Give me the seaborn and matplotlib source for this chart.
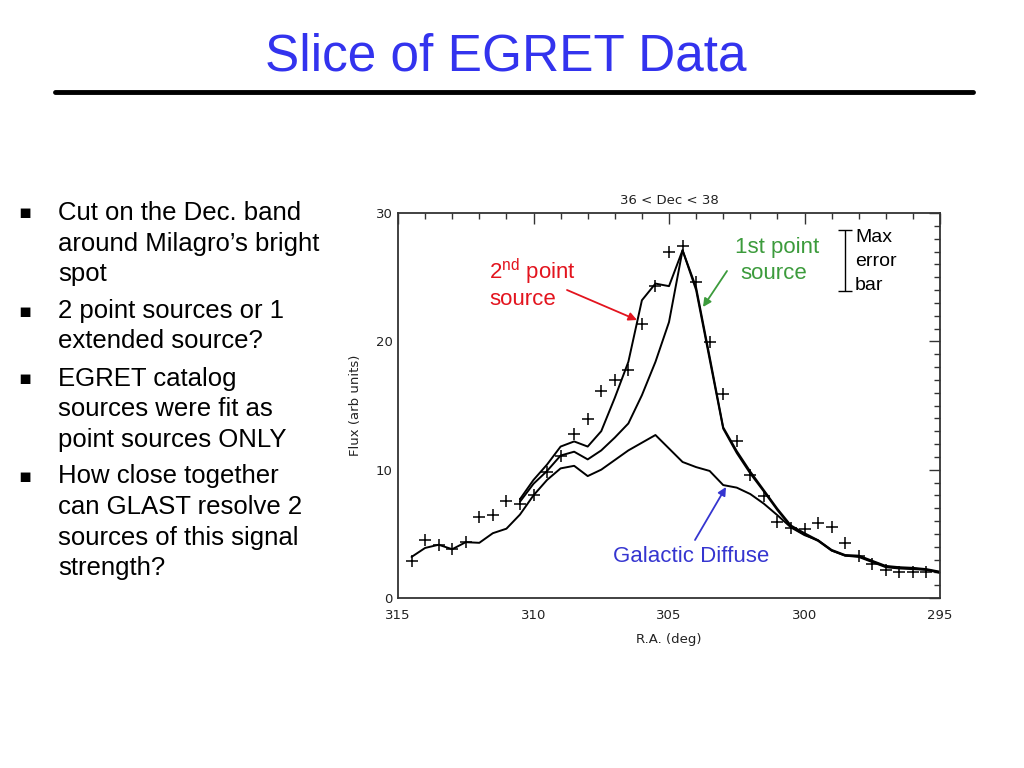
import matplotlib
matplotlib.use('Agg')
import matplotlib.pyplot as plt
import numpy as np
import pandas as pd
import seaborn as sns
from matplotlib.ticker import MultipleLocator

# Measured EGRET flux slice (36 < Dec < 38)
ra_points = [314.5, 314.0, 313.5, 313.0, 312.5, 312.0, 311.5, 311.0, 310.5,
             310.0, 309.5, 309.0, 308.5, 308.0, 307.5, 307.0, 306.5, 306.0,
             305.5, 305.0, 304.5, 304.0, 303.5, 303.0, 302.5, 302.0, 301.5,
             301.0, 300.5, 300.0, 299.5, 299.0, 298.5, 298.0, 297.5, 297.0,
             296.5, 296.0, 295.5]
flux_points = [2.9, 4.5, 4.1, 3.8, 4.4, 6.3, 6.5, 7.55, 7.35,
               8.05, 9.8, 11.05, 12.75, 13.95, 16.1, 17.0, 17.8, 21.35,
               24.3, 27.0, 27.4, 24.6, 19.95, 15.9, 12.25, 9.6, 7.95,
               5.95, 5.45, 5.4, 5.85, 5.5, 4.3, 3.3, 2.65, 2.2,
               2.05, 2.05, 2.05]

# Galactic diffuse model
ra_diffuse = [314.5, 314.0, 313.5, 313.0, 312.5, 312.0, 311.5, 311.0, 310.5,
              310.0, 309.5, 309.0, 308.5, 308.0, 307.5, 307.0, 306.5, 306.0,
              305.5, 305.0, 304.5, 304.0, 303.5, 303.0, 302.5, 302.0, 301.5,
              301.0, 300.5, 300.0, 299.5, 299.0, 298.5, 298.0, 297.5, 297.0,
              296.5, 296.0, 295.5, 295.0]
flux_diffuse = [3.2, 3.9, 4.15, 3.8, 4.35, 4.3, 5.05, 5.4, 6.5,
                8.0, 9.2, 10.1, 10.3, 9.5, 10.0, 10.75, 11.5, 12.1,
                12.7, 11.65, 10.6, 10.2, 9.9, 8.8, 8.6, 8.1, 7.35,
                6.45, 5.5, 4.9, 4.5, 3.7, 3.3, 3.2, 2.8, 2.4,
                2.3, 2.25, 2.2, 1.95]

# Diffuse + point source models
ra_model = [310.5, 310.0, 309.5, 309.0, 308.5, 308.0, 307.5, 307.0, 306.5,
            306.0, 305.5, 305.0, 304.5, 304.0, 303.5, 303.0, 302.5, 302.0,
            301.5, 301.0, 300.5, 300.0, 299.5, 299.0, 298.5, 298.0, 297.5,
            297.0, 296.5, 296.0, 295.5, 295.0]
flux_one_src = [7.5, 8.9, 9.9, 11.1, 11.4, 10.8, 11.5, 12.5, 13.6,
                15.8, 18.4, 21.5, 27.1, 24.0, 18.6, 13.2, 11.3, 9.7,
                8.3, 6.85, 5.55, 4.95, 4.45, 3.7, 3.3, 3.25, 2.85,
                2.45, 2.35, 2.3, 2.2, 2.0]
flux_two_src = [7.7, 9.2, 10.4, 11.8, 12.2, 11.8, 13.0, 15.6, 18.4,
                23.2, 24.5, 24.3, 27.1, 24.2, 18.8, 13.3, 11.45, 9.85,
                8.4, 6.95, 5.65, 5.05, 4.5, 3.75, 3.35, 3.3, 2.9,
                2.5, 2.4, 2.35, 2.25, 2.05]

bullets = [
    ['Cut on the Dec. band', 'around Milagro\u2019s bright', 'spot'],
    ['2 point sources or 1', 'extended source?'],
    ['EGRET catalog', 'sources were fit as', 'point sources ONLY'],
    ['How close together', 'can GLAST resolve 2',
     'sources of this signal', 'strength?'],
]

W, H = 1024, 768


def fx(px):
  return px / W


def fy(py):
  return 1 - py / H


sns.set_style('white')
plt.rcParams['font.family'] = ['Liberation Sans', 'DejaVu Sans']
plt.rcParams['text.color'] = 'black'
plt.rcParams['mathtext.fontset'] = 'custom'
plt.rcParams['mathtext.rm'] = 'Liberation Sans'
plt.rcParams['mathtext.default'] = 'regular'

fig = plt.figure(figsize=(W / 100, H / 100), dpi=100)
fig.patch.set_facecolor('white')

# slide title and rule
fig.text(fx(506), fy(57), 'Slice of EGRET Data', color='#3333ee',
         fontsize=37, ha='center', va='center')
fig.add_artist(plt.Line2D([fx(55), fx(973)], [fy(92), fy(92)],
                          color='black', lw=3.5))

# bullet list
y = 213
for item in bullets:
  fig.text(fx(25), fy(y), '\u25aa', fontsize=14, ha='center', va='center',
           family='DejaVu Sans', color='black')
  for line in item:
    fig.text(fx(58), fy(y), line, fontsize=18.5, ha='left', va='center',
             color='black')
    y += 30.5
  y += 6.5

# the plot
ax = fig.add_axes([fx(398), fy(598), (940 - 398) / W, (598 - 213) / H])
tick_font = dict(family='DejaVu Sans', fontsize=9.5, color='#222222')

df_pts = pd.DataFrame({'ra': ra_points, 'flux': flux_points})
df_diff = pd.DataFrame({'ra': ra_diffuse, 'flux': flux_diffuse})
df_one = pd.DataFrame({'ra': ra_model, 'flux': flux_one_src})
df_two = pd.DataFrame({'ra': ra_model, 'flux': flux_two_src})

for d in (df_diff, df_one, df_two):
  sns.lineplot(data=d, x='ra', y='flux', color='black', lw=1.4,
               estimator=None, ax=ax)
sns.scatterplot(data=df_pts, x='ra', y='flux', marker='+', color='black',
                s=70, linewidth=1.1, ax=ax)

ax.set_xlim(315, 295)
ax.set_ylim(0, 30)
ax.xaxis.set_major_locator(MultipleLocator(5))
ax.xaxis.set_minor_locator(MultipleLocator(1))
ax.yaxis.set_major_locator(MultipleLocator(10))
ax.yaxis.set_minor_locator(MultipleLocator(1))
ax.tick_params(which='both', direction='in', top=True, right=True,
               color='#333333', width=1)
ax.tick_params(which='major', length=8)
ax.tick_params(axis='x', which='major', pad=8)
ax.tick_params(axis='y', which='major', pad=4)
ax.tick_params(which='minor', length=4)
for lab in ax.get_xticklabels() + ax.get_yticklabels():
  lab.set_fontfamily('DejaVu Sans')
  lab.set_fontsize(9.5)
  lab.set_color('#222222')
for s in ax.spines.values():
  s.set_color('#333333')
  s.set_linewidth(1.3)

ax.set_xlabel('R.A. (deg)', **tick_font)
ax.set_ylabel('Flux (arb units)', **tick_font)
ax.xaxis.set_label_coords(0.5, -0.09)
ax.yaxis.set_label_coords(-0.066, 0.5)
ax.text(0.5, 1 + 13 / 385, '36 < Dec < 38', transform=ax.transAxes,
        ha='center', va='center', **tick_font)

# max error bar marker
ax.errorbar([298.5], [26.3], yerr=[2.35], color='black', lw=1, capsize=5,
            capthick=1)
fig.text(fx(855), fy(238), 'Max', fontsize=14, ha='left', va='center')
fig.text(fx(855), fy(262), 'error', fontsize=14, ha='left', va='center')
fig.text(fx(855), fy(286), 'bar', fontsize=14, ha='left', va='center')

# annotations
red = '#e3141e'
green = '#3c9b3c'
blue = '#3535d0'
fig.text(fx(489), fy(272), r'2$^{nd}$ point', color=red, fontsize=16,
         ha='left', va='center')
fig.text(fx(489), fy(299), 'source', color=red, fontsize=16,
         ha='left', va='center')
fig.text(fx(735), fy(247), '1st point', color=green, fontsize=16,
         ha='left', va='center')
fig.text(fx(740), fy(274), 'source', color=green, fontsize=16,
         ha='left', va='center')
fig.text(fx(613), fy(556), 'Galactic Diffuse', color=blue, fontsize=16,
         ha='left', va='center')

arrow = dict(arrowstyle='-|>', lw=1.3, mutation_scale=12,
             shrinkA=0, shrinkB=0)
for tail, tip, col in [((567, 290), (637, 320), red),
                       ((727, 271), (703, 307), green),
                       ((695, 540), (726, 487), blue)]:
  ax.annotate('', xy=(fx(tip[0]), fy(tip[1])),
              xytext=(fx(tail[0]), fy(tail[1])),
              xycoords='figure fraction', textcoords='figure fraction',
              arrowprops=dict(arrow, color=col))

fig.savefig('out.png', dpi=100)
